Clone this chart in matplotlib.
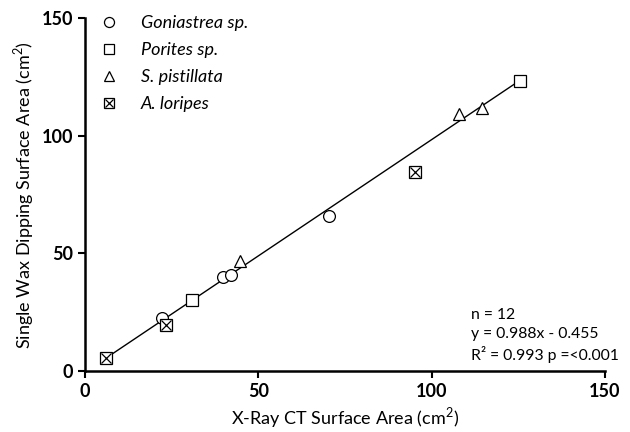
import numpy as np
import matplotlib
matplotlib.use("Agg")
import matplotlib.pyplot as plt

plt.rcParams['font.family'] = ['Lato', 'DejaVu Sans']
plt.rcParams['mathtext.fontset'] = 'custom'
plt.rcParams['mathtext.rm'] = 'Lato'

# data
gon_x = [22.1, 39.7, 42.0, 70.4]
gon_y = [22.5, 40.0, 41.0, 65.7]
por_x = [30.8, 125.6]
por_y = [30.0, 123.3]
spi_x = [44.7, 107.9, 114.5]
spi_y = [46.7, 109.4, 112.0]
alo_x = [6.0, 23.5, 95.3]
alo_y = [5.5, 19.5, 84.4]

slope, intercept = 0.988, -0.455
fit_x = [6.0, 125.6]

fig = plt.figure(figsize=(6.3, 4.32), dpi=100)
ax = fig.add_axes([0.135, 0.141, 0.825, 0.817])

fx = np.array(fit_x)
ax.plot(fx, slope*fx + intercept, color='black', lw=1, zorder=1)

mk = dict(mfc='white', mec='black', mew=0.9, ls='none', ms=8.5, zorder=3)
h1, = ax.plot(gon_x, gon_y, 'o', **mk)
h2, = ax.plot(por_x, por_y, 's', **mk)
h3, = ax.plot(spi_x, spi_y, '^', **mk)
h4, = ax.plot(alo_x, alo_y, 's', **mk)
h5, = ax.plot(alo_x, alo_y, 'x', color='black', mew=0.9, ms=7.5, ls='none', zorder=4)

leg = ax.legend([h1, h2, h3, (h4, h5)],
                ['Goniastrea sp.', 'Porites sp.', 'S. pistillata', 'A. loripes'],
                loc='upper left', frameon=False, fontsize=13, handlelength=1.3,
                handletextpad=1.1, labelspacing=0.62, borderaxespad=0.3,
                bbox_to_anchor=(0.0, 1.045), markerscale=0.85)
for t in leg.get_texts():
    t.set_style('italic')

ax.text(0.742, 0.178, 'n = 12\ny = 0.988x - 0.455\nR² = 0.993 p =<0.001',
        transform=ax.transAxes, fontsize=11.3, va='top', linespacing=1.4)

ax.set_xlim(0, 150)
ax.set_ylim(0, 150)
ax.set_xticks([0, 50, 100, 150])
ax.set_yticks([0, 50, 100, 150])
ax.tick_params(direction='out', length=5, width=1.5, labelsize=13)
for lab in ax.get_xticklabels() + ax.get_yticklabels():
    lab.set_fontweight('bold')
ax.spines['top'].set_visible(False)
ax.spines['right'].set_visible(False)
ax.spines['left'].set_linewidth(1.8)
ax.spines['bottom'].set_linewidth(1.8)

ax.set_xlabel('X-Ray CT Surface Area (cm$^2$)', fontsize=13)
ax.set_ylabel('Single Wax Dipping Surface Area (cm$^2$)', fontsize=13)

fig.savefig('out.png', dpi=100)
